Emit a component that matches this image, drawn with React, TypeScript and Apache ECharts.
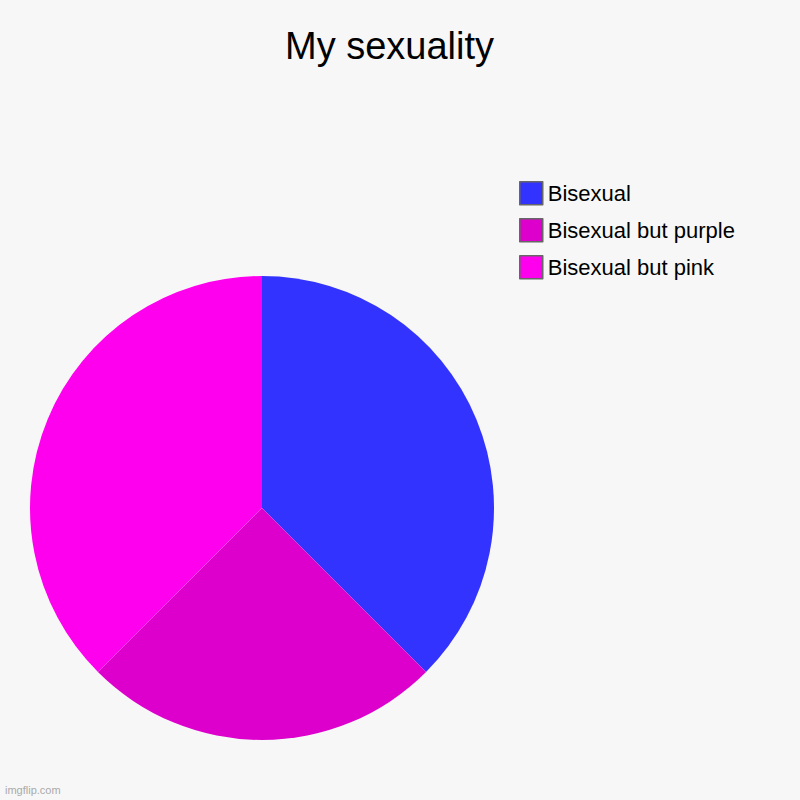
import { useEffect, useRef } from "react";
import * as echarts from "echarts";

const categories = ["Bisexual", "Bisexual but purple", "Bisexual but pink"];
const values = [3, 2, 3];
const colors = ["#3333ff", "#dd00cc", "#ff00ee"];

export default function App() {
  const ref = useRef<HTMLDivElement | null>(null);

  useEffect(() => {
    if (!ref.current) return;
    const chart = echarts.init(ref.current, undefined, { renderer: "svg" });
    const font = "'Liberation Sans', Arial, sans-serif";

    chart.setOption({
      animation: false,
      backgroundColor: "#f7f7f7",
      textStyle: { fontFamily: font },
      title: {
        text: "My sexuality",
        left: 285,
        top: 27,
        padding: 0,
        textStyle: { fontSize: 38, fontWeight: "normal", color: "#000", fontFamily: font },
      },
      legend: {
        orient: "vertical",
        left: 519,
        top: 181,
        padding: 0,
        itemWidth: 23,
        itemHeight: 23,
        itemGap: 12.5,
        icon: "rect",
        selectedMode: false,
        itemStyle: { borderColor: "#666", borderWidth: 1.5 },
        textStyle: { fontSize: 22, color: "#000", fontFamily: font, padding: [0, 0, 0, 0] },
        data: categories,
      },
      graphic: [
        {
          type: "text",
          left: 5,
          top: 784,
          style: { text: "imgflip.com", fontSize: 11, fill: "#aaa", fontFamily: font },
        },
      ],
      series: [
        {
          type: "pie",
          center: [262, 508],
          radius: 232,
          startAngle: 90,
          clockwise: true,
          label: { show: false },
          labelLine: { show: false },
          emphasis: { disabled: true },
          data: categories.map((name, i) => ({
            name,
            value: values[i],
            itemStyle: { color: colors[i] },
          })),
        },
      ],
    });

    return () => chart.dispose();
  }, []);

  return (
    <div
      ref={ref}
      style={{ position: "fixed", left: 0, top: 0, width: 800, height: 800 }}
    />
  );
}
